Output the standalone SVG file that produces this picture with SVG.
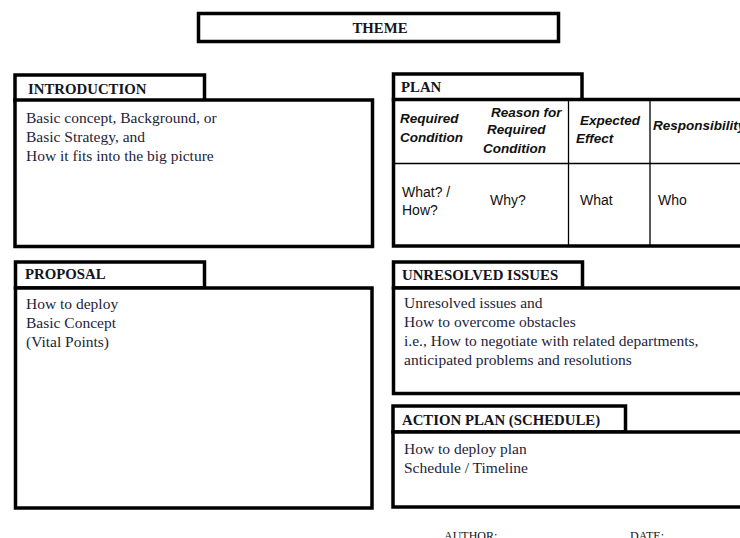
<svg xmlns="http://www.w3.org/2000/svg" width="740" height="538" viewBox="0 0 740 538">
  <style>
    .frame { fill: #ffffff; stroke: #000000; stroke-width: 3.5; }
    .grid { stroke: #000000; stroke-width: 1.3; fill: none; }
    .head { font-family: "Liberation Serif", "Times New Roman", serif; font-weight: bold; font-size: 14.8px; fill: #141420; }
    .body { font-family: "Liberation Serif", "Times New Roman", serif; font-size: 15.5px; fill: #23233a; }
    .colh { font-family: "Liberation Sans", Arial, sans-serif; font-weight: bold; font-style: italic; font-size: 13.5px; fill: #111111; }
    .cell { font-family: "Liberation Sans", Arial, sans-serif; font-size: 14px; fill: #111111; }
    .foot { font-family: "Liberation Serif", "Times New Roman", serif; font-size: 12px; fill: #111111; }
  </style>

  <rect width="740" height="538" fill="#ffffff"/>

  <!-- title bar -->
  <g id="theme">
    <rect class="frame" x="198.5" y="13.5" width="360" height="28"/>
    <text class="head" x="380" y="33" text-anchor="middle">THEME</text>
  </g>

  <!-- left column -->
  <g id="introduction">
    <rect class="frame" x="15" y="75" width="189.5" height="26"/>
    <rect class="frame" x="15" y="100" width="357.5" height="146.5"/>
    <text class="head" x="28" y="94">INTRODUCTION</text>
    <text class="body" x="26" y="123">Basic concept, Background, or</text>
    <text class="body" x="26" y="142">Basic Strategy, and</text>
    <text class="body" x="26" y="161">How it fits into the big picture</text>
  </g>

  <g id="proposal">
    <rect class="frame" x="15.5" y="262" width="189" height="26"/>
    <rect class="frame" x="15.5" y="288" width="356.5" height="220"/>
    <text class="head" x="25" y="279">PROPOSAL</text>
    <text class="body" x="26" y="309">How to deploy</text>
    <text class="body" x="26" y="328">Basic Concept</text>
    <text class="body" x="26" y="347">(Vital Points)</text>
  </g>

  <!-- right column -->
  <g id="plan">
    <rect class="frame" x="393.5" y="74" width="188.5" height="26"/>
    <rect class="frame" x="393.5" y="99.5" width="360" height="146.5"/>
    <text class="head" x="401" y="92">PLAN</text>
    <g id="plan-table">
      <line class="grid" x1="568.5" y1="100" x2="568.5" y2="245"/>
      <line class="grid" x1="650" y1="100" x2="650" y2="245"/>
      <line class="grid" x1="395" y1="163.5" x2="740" y2="163.5"/>
      <text class="colh" x="400" y="123">Required</text>
      <text class="colh" x="400" y="142">Condition</text>
      <text class="colh" x="491" y="117">Reason for</text>
      <text class="colh" x="487" y="134">Required</text>
      <text class="colh" x="483" y="153">Condition</text>
      <text class="colh" x="580" y="125">Expected</text>
      <text class="colh" x="576" y="143">Effect</text>
      <text class="colh" x="653" y="130">Responsibility</text>
      <text class="cell" x="402" y="197">What? /</text>
      <text class="cell" x="402" y="215">How?</text>
      <text class="cell" x="490" y="205">Why?</text>
      <text class="cell" x="580" y="205">What</text>
      <text class="cell" x="658" y="205">Who</text>
    </g>
  </g>

  <g id="unresolved-issues">
    <rect class="frame" x="393.5" y="262" width="189" height="26"/>
    <rect class="frame" x="393.5" y="288" width="360" height="105.5"/>
    <text class="head" x="402" y="280">UNRESOLVED ISSUES</text>
    <text class="body" x="404" y="308">Unresolved issues and</text>
    <text class="body" x="404" y="327">How to overcome obstacles</text>
    <text class="body" x="404" y="346">i.e., How to negotiate with related departments,</text>
    <text class="body" x="404" y="365">anticipated problems and resolutions</text>
  </g>

  <g id="action-plan">
    <rect class="frame" x="393" y="406" width="232.5" height="26"/>
    <rect class="frame" x="393" y="432" width="360" height="75"/>
    <text class="head" x="402" y="425">ACTION PLAN (SCHEDULE)</text>
    <text class="body" x="404" y="454">How to deploy plan</text>
    <text class="body" x="404" y="473">Schedule / Timeline</text>
  </g>

  <!-- sign-off line -->
  <g id="footer">
    <text class="foot" x="444" y="540">AUTHOR:</text>
    <text class="foot" x="630" y="540">DATE:</text>
  </g>

  <g id="connectors"/>
</svg>
